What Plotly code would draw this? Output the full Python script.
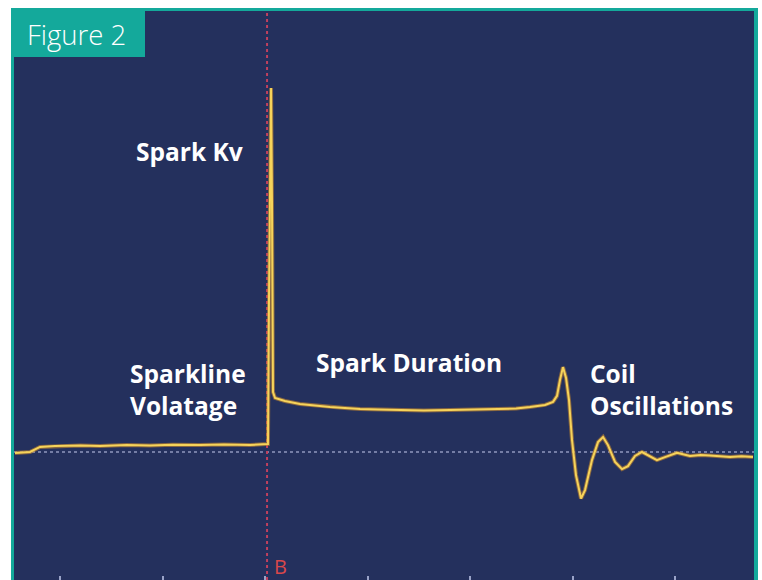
import plotly.graph_objects as go

# Time in scope divisions (trigger "B" at 0), voltage in kV
time_div = [-2.439, -2.293, -2.195, -2.049, -1.80, -1.610, -1.35, -1.122, -0.90, -0.634, -0.40, -0.146, 0.020,
            0.029, 0.039, 0.049, 0.059, 0.068, 0.078, 0.098, 0.195, 0.341, 0.48, 0.634, 0.78, 0.927, 1.10,
            1.317, 1.55, 1.805, 2.05, 2.293, 2.45, 2.585, 2.732, 2.810, 2.849, 2.878, 2.907, 2.937, 2.966,
            2.995, 3.034, 3.083, 3.122, 3.190, 3.249, 3.298, 3.346, 3.415, 3.483, 3.541, 3.610, 3.678,
            3.756, 3.824, 3.902, 4.020, 4.146, 4.25, 4.341, 4.45, 4.537, 4.65, 4.761]
voltage_kv = [-0.03, 0.00, 0.17, 0.20, 0.22, 0.20, 0.23, 0.22, 0.24, 0.23, 0.25, 0.23, 0.27,
              0.27, 5.07, 9.07, 12.13, 8.40, 2.00, 1.80, 1.70, 1.60, 1.55, 1.50, 1.47, 1.43, 1.42,
              1.40, 1.38, 1.40, 1.41, 1.43, 1.45, 1.50, 1.57, 1.67, 1.87, 2.40, 2.83, 2.47, 1.73,
              0.40, -0.77, -1.55, -1.27, -0.27, 0.33, 0.50, 0.23, -0.33, -0.57, -0.47, -0.13, 0.00,
              -0.13, -0.27, -0.17, -0.03, -0.13, -0.10, -0.12, -0.15, -0.17, -0.14, -0.17]

labels = ["Spark Kv", "Sparkline<br>Volatage", "Spark Duration", "Coil<br>Oscillations"]
label_t = [-1.279, -1.337, 0.478, 3.151]
label_kv = [10.03, 2.07, 2.97, 2.07]

tick_divs = [-2, -1, 0, 1, 2, 3, 4]
trigger_t = 0.02
marker_label = "B"
figure_title = "Figure 2"

NAVY = "#24305d"
TEAL = "#14a99b"

fig = go.Figure()
fig.add_trace(go.Scatter(x=time_div, y=voltage_kv, mode="lines",
                         line=dict(color="#c98a2e", width=4), opacity=0.6,
                         hoverinfo="skip", showlegend=False))
fig.add_trace(go.Scatter(x=time_div, y=voltage_kv, mode="lines",
                         line=dict(color="#f6d35a", width=2),
                         showlegend=False))

W, H = 762, 580
L, R, T, B = 14, 8, 11, 0
pw, ph = W - L - R, H - T - B


def px(xp):
    return (xp - L) / pw


def py(yp):
    return (H - B - yp) / ph


shapes = [
    dict(type="rect", xref="paper", yref="paper", x0=px(11), x1=px(758), y0=py(580), y1=py(8),
         fillcolor=TEAL, line=dict(width=0), layer="below"),
    dict(type="rect", xref="paper", yref="paper", x0=px(14), x1=px(754), y0=py(580), y1=py(11),
         fillcolor=NAVY, line=dict(width=0), layer="below"),
    dict(type="line", xref="paper", yref="y", x0=0, x1=1, y0=0, y1=0,
         line=dict(color="#8e97bd", width=1.5, dash="dot"), layer="below"),
    dict(type="line", xref="x", yref="paper", x0=trigger_t, x1=trigger_t, y0=0, y1=1,
         line=dict(color="#c0405e", width=2, dash="dot"), layer="below"),
    dict(type="rect", xref="paper", yref="paper", x0=px(11), x1=px(145), y0=py(57), y1=py(8),
         fillcolor=TEAL, line=dict(width=0), layer="above"),
]

annotations = []
for txt, t, v in zip(labels, label_t, label_kv):
    annotations.append(dict(x=t, y=v, xref="x", yref="y", text=txt, showarrow=False,
                            xanchor="left", yanchor="middle", align="left",
                            font=dict(family="Open Sans", size=24.5, color="white", weight="bold")))
annotations.append(dict(x=0.156, y=-3.8, xref="x", yref="y", text=marker_label, showarrow=False,
                        xanchor="center", yanchor="middle",
                        font=dict(family="Open Sans", size=20, color="#d9474a")))
annotations.append(dict(x=px(25), y=py(34), xref="paper", yref="paper", text=figure_title,
                        showarrow=False, xanchor="left", yanchor="middle",
                        font=dict(family="Open Sans", size=27.5, color="white", weight=300)))

fig.update_layout(
    width=W, height=H,
    margin=dict(l=L, r=R, t=T, b=B, pad=0),
    paper_bgcolor="white", plot_bgcolor="rgba(0,0,0,0)",
    shapes=shapes, annotations=annotations,
    xaxis=dict(range=[(14 - 265) / 102.5, (754 - 265) / 102.5], showgrid=False, zeroline=False,
               showline=False, tickvals=tick_divs, ticks="inside", ticklen=4, tickwidth=1.5,
               tickcolor="#9aa3c8", showticklabels=False, fixedrange=True),
    yaxis=dict(range=[(452 - 580) / 30, (452 - 11) / 30], showgrid=False, zeroline=False,
               showline=False, showticklabels=False, ticks="", fixedrange=True),
)

fig.write_html("out.html", config={"displayModeBar": False},
               post_script="document.body.style.margin='0';document.body.style.overflow='hidden';")
